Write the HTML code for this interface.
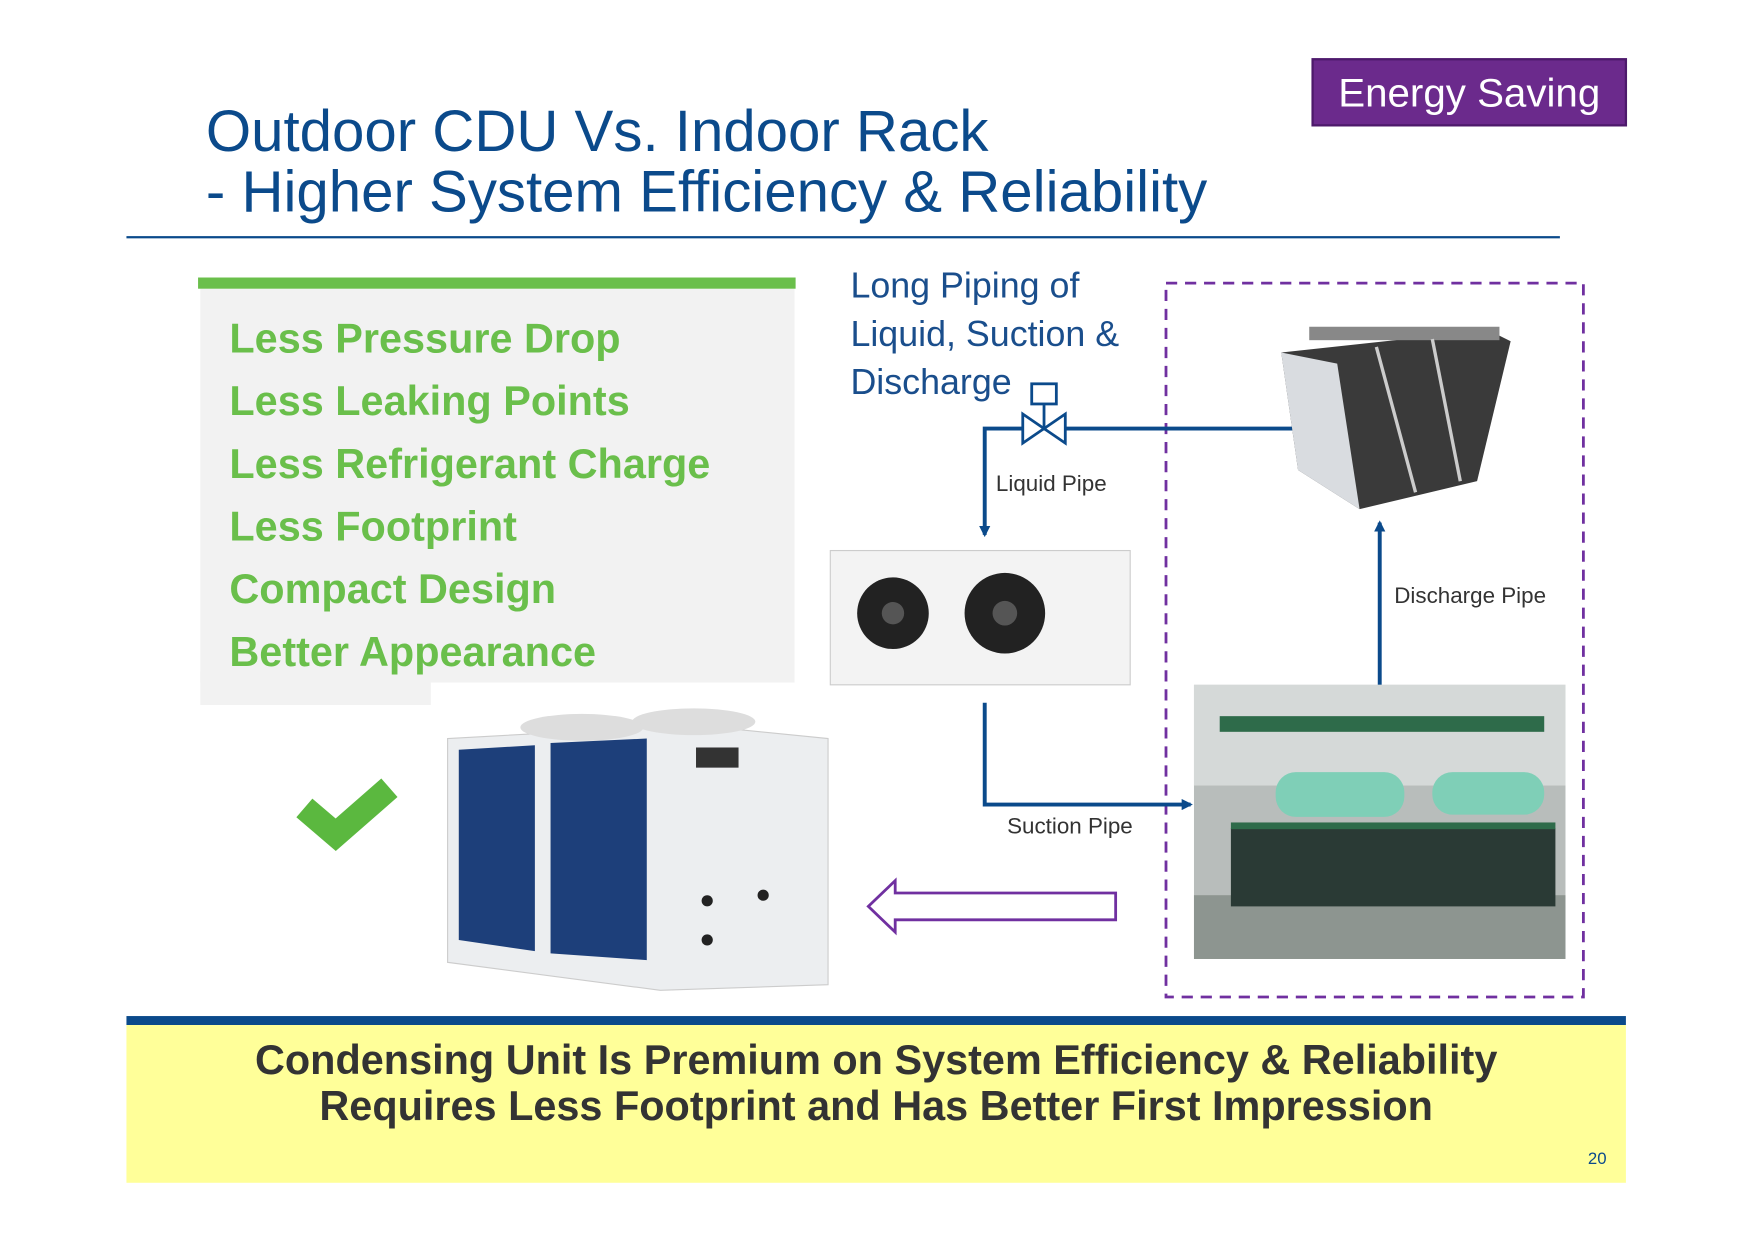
<!DOCTYPE html>
<html><head><meta charset="utf-8">
<style>
html,body{margin:0;padding:0;background:#fff;overflow:hidden;}
#wrap{position:absolute;left:0;top:0;width:1560px;height:1104px;transform:scale(1.119);transform-origin:0 0;font-family:"Liberation Sans",Arial,sans-serif;}
.abs{position:absolute;}
.g{position:absolute;left:205px;font-size:37px;font-weight:bold;color:#6abf4b;white-space:nowrap;line-height:40px;}
.lbl{position:absolute;font-size:20px;color:#333;white-space:nowrap;}
</style></head><body>
<div id="wrap">
<div class="abs" style="left:1172px;top:52px;width:278px;height:57px;background:#6b2a8c;border:2px solid #4d1a6b;color:#fff;font-size:36px;line-height:57px;text-align:center;">Energy Saving</div>
<div class="abs" style="left:184px;top:91px;font-size:52px;line-height:54px;color:#0b4a8b;white-space:nowrap;">Outdoor CDU Vs. Indoor Rack<br>- Higher System Efficiency &amp; Reliability</div>
<div class="abs" style="left:113px;top:211px;width:1281px;height:2px;background:#0b4a8b;"></div>

<div class="abs" style="left:179px;top:258px;width:531px;height:352px;background:#f2f2f2;"></div>
<div class="abs" style="left:179px;top:600px;width:206px;height:30px;background:#f2f2f2;"></div>
<div class="abs" style="left:177px;top:248px;width:534px;height:10px;background:#6abf4b;"></div>
<div class="g" style="top:283px;">Less Pressure Drop</div>
<div class="g" style="top:339px;">Less Leaking Points</div>
<div class="g" style="top:395px;">Less Refrigerant Charge</div>
<div class="g" style="top:451px;">Less Footprint</div>
<div class="g" style="top:507px;">Compact Design</div>
<div class="g" style="top:563px;">Better Appearance</div>

<div class="abs" style="left:760px;top:234px;font-size:32px;line-height:43px;color:#1a4e8c;white-space:nowrap;">Long Piping of<br>Liquid, Suction &amp;<br>Discharge</div>

<svg class="abs" style="left:0;top:0" width="1560" height="1104">
<defs><marker id="ah" markerWidth="10" markerHeight="10" refX="8" refY="5" orient="auto" markerUnits="userSpaceOnUse"><path d="M0,0 L10,5 L0,10z" fill="#0b4a8b"/></marker></defs>
<rect x="1042" y="253" width="373" height="638" fill="none" stroke="#7030a0" stroke-width="2.5" stroke-dasharray="10,7"/>
<g stroke="#0b4a8b" stroke-width="3.5" fill="none">
<path d="M1158,383 H880 V478" marker-end="url(#ah)"/>
<path d="M880,628 V719 H1064" marker-end="url(#ah)"/>
<path d="M1233,612 V467" marker-end="url(#ah)"/>
</g>
<g stroke="#0b4a8b" stroke-width="2.5" fill="#fff">
<path d="M914,370 L952,396 L952,370 L914,396 Z"/>
<line x1="933" y1="383" x2="933" y2="362"/>
<rect x="922" y="343" width="22" height="18"/>
</g>
<g>
<polygon points="1145,315 1330,295 1350,305 1320,430 1215,455 1160,420" fill="#3a3a3a"/>
<polygon points="1145,315 1195,325 1215,455 1160,420" fill="#d9dce0"/>
<rect x="1170" y="292" width="170" height="12" fill="#888"/>
<line x1="1230" y1="310" x2="1265" y2="440" stroke="#ccc" stroke-width="3"/>
<line x1="1280" y1="303" x2="1305" y2="430" stroke="#ccc" stroke-width="3"/>
</g>
<g>
<rect x="742" y="492" width="268" height="120" fill="#f3f3f3" stroke="#ccc"/>
<circle cx="798" cy="548" r="32" fill="#222"/><circle cx="798" cy="548" r="10" fill="#555"/>
<circle cx="898" cy="548" r="36" fill="#222"/><circle cx="898" cy="548" r="11" fill="#555"/>
</g>
<g>
<rect x="1067" y="612" width="332" height="245" fill="#b8bdbb"/>
<rect x="1067" y="612" width="332" height="90" fill="#d5d9d8"/>
<rect x="1067" y="800" width="332" height="57" fill="#8d9590"/>
<rect x="1090" y="640" width="290" height="14" fill="#2e6b4a"/>
<rect x="1140" y="690" width="115" height="40" rx="18" fill="#7fcfb7"/>
<rect x="1280" y="690" width="100" height="38" rx="18" fill="#7fcfb7"/>
<rect x="1100" y="740" width="290" height="70" fill="#2a3a35"/>
<rect x="1100" y="735" width="290" height="6" fill="#2e6b4a"/>
</g>
<g>
<polygon points="400,660 620,648 740,660 740,880 590,885 400,860" fill="#eceef0" stroke="#ccc"/>
<ellipse cx="620" cy="645" rx="55" ry="12" fill="#ddd"/><ellipse cx="520" cy="650" rx="55" ry="12" fill="#ddd"/>
<polygon points="410,670 478,666 478,850 410,840" fill="#1d3f7a"/>
<polygon points="492,664 578,660 578,858 492,852" fill="#1d3f7a"/>
<rect x="622" y="668" width="38" height="18" fill="#333"/>
<circle cx="632" cy="805" r="5" fill="#222"/><circle cx="682" cy="800" r="5" fill="#222"/><circle cx="632" cy="840" r="5" fill="#222"/>
</g>
<path d="M272,722 L300,746 L348,704" fill="none" stroke="#5bb83f" stroke-width="22" stroke-linejoin="miter"/>
<path d="M997,798 H800 V787 L776,810 L800,833 V822 H997 Z" fill="#fff" stroke="#7030a0" stroke-width="2.5"/>
</svg>

<div class="lbl" style="left:890px;top:422px;">Liquid Pipe</div>
<div class="lbl" style="left:900px;top:728px;">Suction Pipe</div>
<div class="lbl" style="left:1246px;top:522px;">Discharge Pipe</div>

<div class="abs" style="left:113px;top:908px;width:1340px;height:8px;background:#0b4a8b;"></div>
<div class="abs" style="left:113px;top:916px;width:1340px;height:141px;background:#ffff99;"></div>
<div class="abs" style="left:113px;top:927px;width:1340px;text-align:center;font-size:37px;font-weight:bold;color:#333;line-height:41px;">Condensing Unit Is Premium on System Efficiency &amp; Reliability<br>Requires Less Footprint and Has Better First Impression</div>
<div class="abs" style="left:1419px;top:1027px;font-size:15px;color:#0b4a8b;">20</div>
</div>
</body></html>
